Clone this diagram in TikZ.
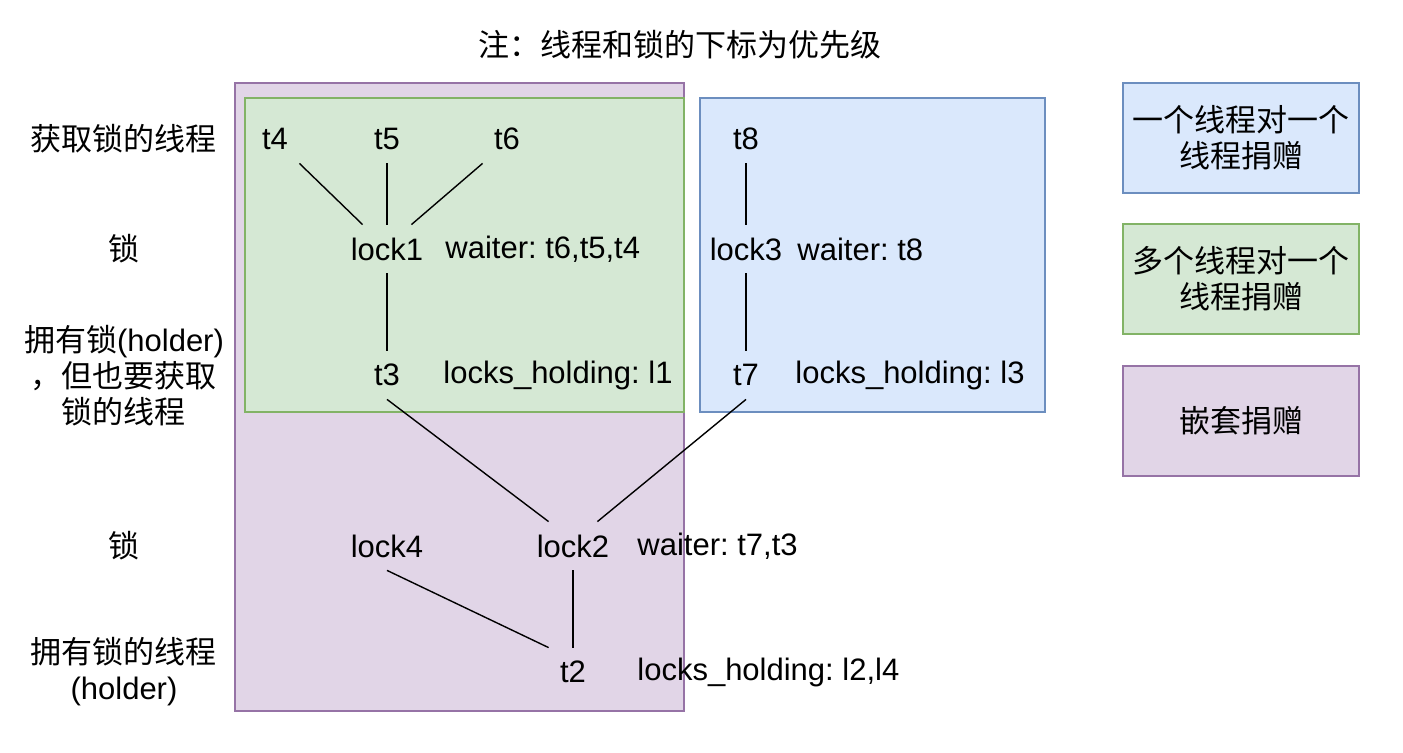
\documentclass[tikz,border=0pt]{standalone}
\usepackage{fontspec}
\setmainfont{Liberation Sans}
\newfontfamily\cjk{Noto Sans CJK SC}
\frenchspacing
\definecolor{nestfill}{HTML}{E1D5E7}
\definecolor{nestdraw}{HTML}{9673A6}
\definecolor{manyfill}{HTML}{D5E8D4}
\definecolor{manydraw}{HTML}{82B366}
\definecolor{onefill}{HTML}{DAE8FC}
\definecolor{onedraw}{HTML}{6C8EBF}
\tikzset{
  cell/.style={minimum width=24pt,minimum height=24pt,inner sep=0pt},
  note/.style={anchor=west,inner sep=0pt},
  side/.style={align=center,inner sep=0pt},
  legend/.style={draw,line width=0.8pt,minimum width=118pt,minimum height=55pt,align=center,inner sep=0pt},
  link/.style={line width=0.7pt}
}
\begin{document}
\begin{tikzpicture}[x=0.5pt,y=-0.5pt,font=\fontsize{15.5}{18}\selectfont]
    \useasboundingbox (0,0) rectangle (1403,753);
    \node[inner sep=0pt] (title) at (680,45) {\cjk 注：线程和锁的下标为优先级};

    \draw[fill=nestfill,draw=nestdraw,line width=0.8pt] (235,83) rectangle (684,711);
    \draw[fill=manyfill,draw=manydraw,line width=0.8pt] (245,98) rectangle (684,412);
    \draw[fill=onefill,draw=onedraw,line width=0.8pt] (700,98) rectangle (1045,412);

    \node[side] (rowa) at (124,139) {\cjk 获取锁的线程};
    \node[side] (rowb) at (124,249) {\cjk 锁};
    \node[side] (rowc) at (124,376) {{\cjk 拥有锁}(holder)\\{\cjk ，但也要获取}\\{\cjk 锁的线程}};
    \node[side] (rowd) at (124,546) {\cjk 锁};
    \node[side] (rowe) at (124,672) {{\cjk 拥有锁的线程}\\(holder)};

    \node[cell] (t4) at (275,139) {t4};
    \node[cell] (t5) at (387,139) {t5};
    \node[cell] (t6) at (507,139) {t6};
    \node[cell] (lock1) at (387,249) {lock1};
    \node[cell] (t3) at (387,375) {t3};
    \node[note] (wait1) at (445,249) {waiter: t6,t5,t4};
    \node[note] (hold3) at (443,375) {locks\_holding: l1};

    \node[cell] (t8) at (746,139) {t8};
    \node[cell] (lock3) at (746,249) {lock3};
    \node[cell] (t7) at (746,375) {t7};
    \node[note] (wait3) at (797,249) {waiter: t8};
    \node[note] (hold7) at (795,375) {locks\_holding: l3};

    \node[cell] (lock4) at (387,546) {lock4};
    \node[cell] (lock2) at (573,546) {lock2};
    \node[cell] (t2) at (573,672) {t2};
    \node[note] (wait2) at (637,546) {waiter: t7,t3};
    \node[note] (hold2) at (637,672) {locks\_holding: l2,l4};

    \draw[link] (t4.-45) -- (lock1.135);
    \draw[link] (t5.south) -- (lock1.north);
    \draw[link] (t6.-135) -- (lock1.45);
    \draw[link] (lock1.south) -- (t3.north);
    \draw[link] (t8.south) -- (lock3.north);
    \draw[link] (lock3.south) -- (t7.north);
    \draw[link] (t3.south) -- (lock2.135);
    \draw[link] (t7.south) -- (lock2.45);
    \draw[link] (lock4.south) -- (t2.135);
    \draw[link] (lock2.south) -- (t2.north);

    \node[legend,fill=onefill,draw=onedraw] (one) at (1241,138) {\cjk 一个线程对一个\\\cjk 线程捐赠};
    \node[legend,fill=manyfill,draw=manydraw] (many) at (1241,279) {\cjk 多个线程对一个\\\cjk 线程捐赠};
    \node[legend,fill=nestfill,draw=nestdraw] (nest) at (1241,421) {\cjk 嵌套捐赠};
\end{tikzpicture}
\end{document}
